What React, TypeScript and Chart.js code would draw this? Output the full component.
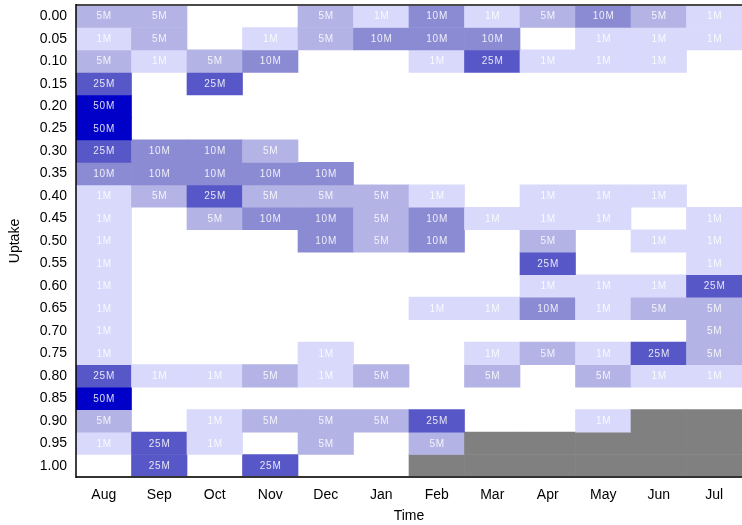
import React, { useEffect, useRef } from "react";
import { Chart, registerables } from "chart.js";

Chart.register(...registerables);

// Columns (x) and rows (y)
const months = ["Aug", "Sep", "Oct", "Nov", "Dec", "Jan", "Feb", "Mar", "Apr", "May", "Jun", "Jul"];
const uptake = [
  "0.00", "0.05", "0.10", "0.15", "0.20", "0.25", "0.30", "0.35", "0.40", "0.45", "0.50",
  "0.55", "0.60", "0.65", "0.70", "0.75", "0.80", "0.85", "0.90", "0.95", "1.00",
];

// Values in millions per month, one entry per uptake row. null = empty, -1 = no data (grey)
const _ = null;
const NA = -1;
const aug = [5, 1, 5, 25, 50, 50, 25, 10, 1, 1, 1, 1, 1, 1, 1, 1, 25, 50, 5, 1, _];
const sep = [5, 5, 1, _, _, _, 10, 10, 5, _, _, _, _, _, _, _, 1, _, _, 25, 25];
const oct = [_, _, 5, 25, _, _, 10, 10, 25, 5, _, _, _, _, _, _, 1, _, 1, 1, _];
const nov = [_, 1, 10, _, _, _, 5, 10, 5, 10, _, _, _, _, _, _, 5, _, 5, _, 25];
const dec = [5, 5, _, _, _, _, _, 10, 5, 10, 10, _, _, _, _, 1, 1, _, 5, 5, _];
const jan = [1, 10, _, _, _, _, _, _, 5, 5, 5, _, _, _, _, _, 5, _, 5, _, _];
const feb = [10, 10, 1, _, _, _, _, _, 1, 10, 10, _, _, 1, _, _, _, _, 25, 5, NA];
const mar = [1, 10, 25, _, _, _, _, _, _, 1, _, _, _, 1, _, 1, 5, _, _, NA, NA];
const apr = [5, _, 1, _, _, _, _, _, 1, 1, 5, 25, 1, 10, _, 5, _, _, _, NA, NA];
const may = [10, 1, 1, _, _, _, _, _, 1, 1, _, _, 1, 1, _, 1, 5, _, 1, NA, NA];
const jun = [5, 1, 1, _, _, _, _, _, 1, _, 1, _, 1, 5, _, 25, 1, _, NA, NA, NA];
const jul = [1, 1, _, _, _, _, _, _, _, 1, 1, 1, 25, 5, 5, 5, 1, _, NA, NA, NA];

const columns = [aug, sep, oct, nov, dec, jan, feb, mar, apr, may, jun, jul];

const colorFor = (v: number | null): string => {
  if (v === null) return "rgba(0,0,0,0)";
  if (v < 0) return "#808080";
  if (v >= 50) return "#0000c8";
  if (v >= 25) return "#5757c7";
  if (v >= 10) return "#8b8bd4";
  if (v >= 5) return "#b3b3e5";
  return "#d9d9fc";
};

export default function App() {
  const ref = useRef<HTMLCanvasElement | null>(null);

  useEffect(() => {
    if (!ref.current) return;

    const datasets = uptake.map((_label, r) => ({
      label: uptake[r],
      data: months.map((_m, c) => {
        const v = columns[c][r];
        return v === null ? null : [r - 0.5, r + 0.5];
      }),
      backgroundColor: months.map((_m, c) => colorFor(columns[c][r])),
      borderWidth: 0,
      barPercentage: 1,
      categoryPercentage: 1,
      grouped: false,
    }));

    const labelPlugin = {
      id: "cellLabels",
      afterDatasetsDraw(chart: any) {
        const { ctx, scales, chartArea } = chart;
        const xs = scales.x;
        const ys = scales.y;
        ctx.save();
        ctx.font = "10px 'Liberation Sans', Arial, sans-serif";
        (ctx as any).letterSpacing = "0.8px";
        ctx.textAlign = "center";
        ctx.textBaseline = "middle";
        ctx.fillStyle = "rgba(255,255,255,0.85)";
        columns.forEach((col, c) => {
          col.forEach((v, r) => {
            if (v !== null && v > 0) {
              const x = xs.getPixelForValue(c);
              const y = ys.getPixelForValue(r);
              ctx.fillText(v + "M", x + 0.4, y + 0.5);
            }
          });
        });
        ctx.restore();

        // frame lines
        ctx.save();
        ctx.lineWidth = 2;
        ctx.strokeStyle = "#4a4a4a";
        ctx.beginPath();
        ctx.moveTo(chartArea.left, chartArea.top);
        ctx.lineTo(chartArea.right, chartArea.top);
        ctx.stroke();
        ctx.strokeStyle = "#333333";
        ctx.beginPath();
        ctx.moveTo(chartArea.left, chartArea.bottom);
        ctx.lineTo(chartArea.right, chartArea.bottom);
        ctx.stroke();
        ctx.lineWidth = 1.5;
        ctx.strokeStyle = "#000000";
        ctx.beginPath();
        ctx.moveTo(chartArea.left, chartArea.top - 1);
        ctx.lineTo(chartArea.left, chartArea.bottom + 1);
        ctx.stroke();
        ctx.restore();
      },
    };

    const font = { family: "'Liberation Sans', Arial, sans-serif", size: 14 };

    const chart = new Chart(ref.current, {
      type: "bar",
      data: { labels: months, datasets: datasets as any },
      plugins: [labelPlugin],
      options: {
        animation: false,
        responsive: true,
        maintainAspectRatio: false,
        layout: { padding: { top: 5, right: 0, left: 0, bottom: 0 } },
        plugins: { legend: { display: false }, tooltip: { enabled: false } },
        scales: {
          x: {
            type: "category",
            offset: true,
            grid: { display: false, drawTicks: false },
            border: { display: false },
            ticks: { color: "#000", font, padding: 10, maxRotation: 0, autoSkip: false },
            title: { display: true, text: "Time", color: "#000", font, padding: { top: 0, bottom: 0 } },
            afterFit: (s: any) => {
              s.height = 48;
              s.paddingLeft = 0;
              s.paddingRight = 0;
            },
          },
          y: {
            type: "linear",
            min: -0.5,
            max: 20.5,
            reverse: true,
            grid: { display: false, drawTicks: false },
            border: { display: false },
            afterBuildTicks: (s: any) => {
              s.ticks = uptake.map((_l, i) => ({ value: i }));
            },
            ticks: {
              color: "#000",
              font,
              padding: 9,
              autoSkip: false,
              callback: (v: any) => uptake[Math.round(Number(v))] ?? "",
            },
            title: { display: true, text: "Uptake", color: "#000", font, padding: { top: 7, bottom: 0 } },
            afterFit: (s: any) => {
              s.width = 76;
              s.paddingTop = 0;
              s.paddingBottom = 0;
            },
          },
        },
      },
    });

    return () => chart.destroy();
  }, []);

  return (
    <div style={{ position: "fixed", left: 0, top: 0, width: 742, height: 525, background: "#fff" }}>
      <canvas ref={ref} />
    </div>
  );
}
